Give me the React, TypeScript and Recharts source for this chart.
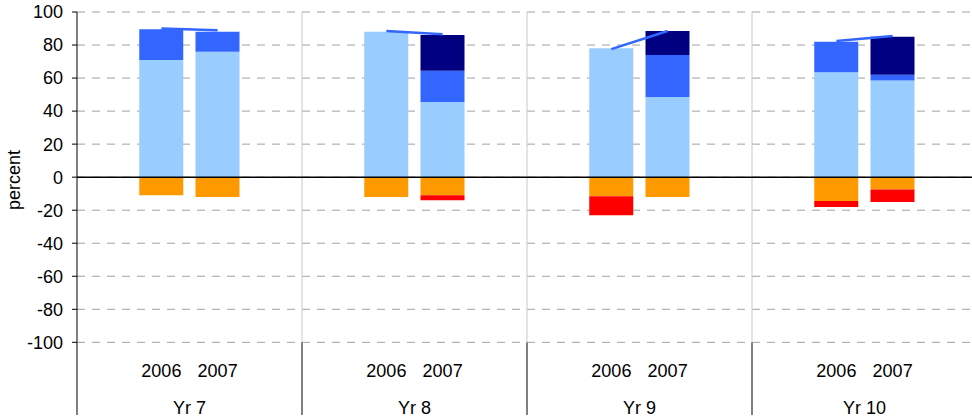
import React from "react";
import {
  ComposedChart,
  Bar,
  Line,
  XAxis,
  YAxis,
  CartesianGrid,
  ReferenceLine,
} from "recharts";

// categories
const groups = ["Yr 7", "Yr 8", "Yr 9", "Yr 10"];
const years = ["2006", "2007"];

// series, order: Yr7-2006, Yr7-2007, Yr8-2006, Yr8-2007, ...
const lightBlue = [71, 76, 88, 45.5, 78, 48.5, 63.5, 58.5];
const blue = [18.5, 12, 0, 19, 0, 25.5, 18.5, 3.5];
const navy = [0, 0, 0, 21.5, 0, 14.5, 0, 23];
const orange = [-11, -12, -12, -11, -11.5, -12, -14.5, -7.5];
const red = [0, 0, 0, -3, -11.5, 0, -3.5, -7.5];
const trend = [90, 89, 88.5, 86.5, 77.5, 88.5, 82.5, 85.5];

const yTicks = [-100, -80, -60, -40, -20, 0, 20, 40, 60, 80, 100];

const W = 977;
const H = 419;
const LEFT = 77;
const SLOT = (W - LEFT) / (groups.length * 4);
const FONT = "'Liberation Sans', Arial, sans-serif";

// each group gets a spacer slot either side of the two year bars
const data: any[] = [];
groups.forEach((g, gi) => {
  data.push({ key: `${g}|a`, lb: 0, bl: 0, nv: 0, or: 0, rd: 0, trend: null });
  years.forEach((y, yi) => {
    const i = gi * 2 + yi;
    data.push({
      key: `${g}|${y}`,
      lb: lightBlue[i],
      bl: blue[i],
      nv: navy[i],
      or: orange[i],
      rd: red[i],
      trend: trend[i],
    });
  });
  data.push({ key: `${g}|b`, lb: 0, bl: 0, nv: 0, or: 0, rd: 0, trend: null });
});

function renderCatTick(props: any) {
  const { x, payload } = props;
  const [grp, yr] = String(payload.value).split("|");
  if (yr !== "2006" && yr !== "2007") return <g />;
  return (
    <g>
      <text x={x} y={377} textAnchor="middle" fontSize={18} fontFamily={FONT} fill="#000">
        {yr}
      </text>
      {yr === "2006" && (
        <text x={x + SLOT / 2} y={414} textAnchor="middle" fontSize={18} fontFamily={FONT} fill="#000">
          {grp}
        </text>
      )}
    </g>
  );
}

export default function App() {
  return (
    <div style={{ position: "absolute", left: 0, top: 0, width: 972, height: H, overflow: "hidden", background: "#fff" }}>
      <ComposedChart
        width={W}
        height={H}
        data={data}
        stackOffset="sign"
        barSize={44}
        margin={{ top: 12, right: 0, bottom: 3, left: 0 }}
      >
        <CartesianGrid
          horizontal
          vertical={false}
          syncWithTicks
          stroke="#a0a0a0"
          strokeDasharray="8 7"
        />
        <XAxis
          dataKey="key"
          height={1}
          interval={0}
          axisLine={false}
          tickLine={false}
          tick={renderCatTick}
        />
        <YAxis
          width={LEFT}
          domain={[-144, 100]}
          ticks={yTicks}
          interval={0}
          tickSize={5}
          tickMargin={9}
          allowDataOverflow
          axisLine={{ stroke: "#000" }}
          tickLine={{ stroke: "#000" }}
          tick={{ fill: "#000", fontSize: 18, fontFamily: FONT }}
          label={{
            content: () => {
              const cx = 14;
              const cy = 180;
              return (
                <text
                  x={cx}
                  y={cy}
                  transform={`rotate(-90, ${cx}, ${cy})`}
                  textAnchor="middle"
                  dominantBaseline="central"
                  fontSize={18}
                  fontFamily={FONT}
                  fill="#000"
                >
                  percent
                </text>
              );
            },
          }}
        />
        {groups.slice(1).map((g) => (
          <ReferenceLine key={g} x={`${g}|a`} position="start" stroke="#c8c8c8" strokeWidth={1} />
        ))}
        {groups.slice(1).map((g) => (
          <ReferenceLine
            key={`${g}-low`}
            segment={[
              { x: `${g}|a`, y: -100 },
              { x: `${g}|a`, y: -144 },
            ]}
            position="start"
            stroke="#808080"
            strokeWidth={2}
          />
        ))}
        <Bar dataKey="lb" stackId="s" fill="#99CCFF" isAnimationActive={false} />
        <Bar dataKey="bl" stackId="s" fill="#3366FF" isAnimationActive={false} />
        <Bar dataKey="nv" stackId="s" fill="#000080" isAnimationActive={false} />
        <Bar dataKey="or" stackId="s" fill="#FF9900" isAnimationActive={false} />
        <Bar dataKey="rd" stackId="s" fill="#FF0000" isAnimationActive={false} />
        <ReferenceLine y={0} stroke="#000" strokeWidth={1.5} />
        <Line
          dataKey="trend"
          stroke="#3366FF"
          strokeWidth={2.5}
          dot={false}
          activeDot={false}
          connectNulls={false}
          isAnimationActive={false}
        />
      </ComposedChart>
    </div>
  );
}
